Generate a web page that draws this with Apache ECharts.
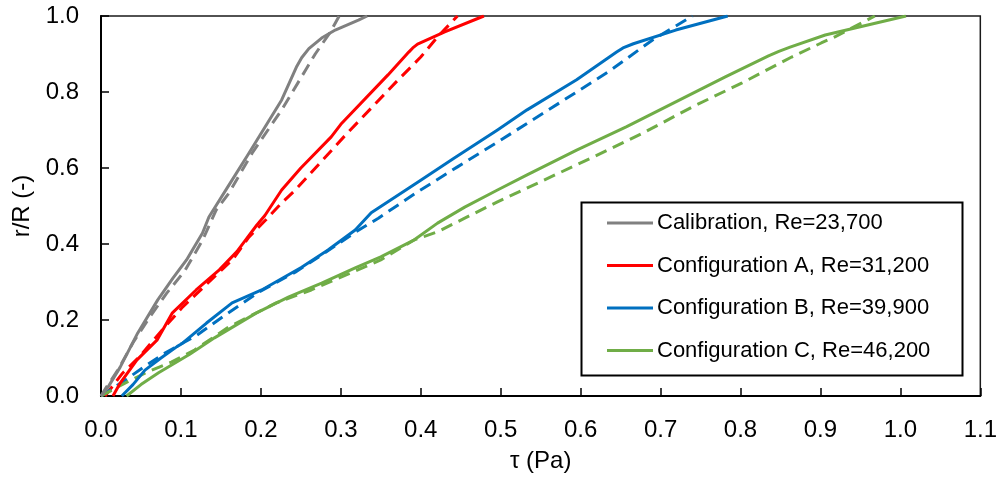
<!DOCTYPE html>
<html><head><meta charset="utf-8">
<script src="https://cdn.jsdelivr.net/npm/echarts@6/dist/echarts.min.js"></script>
<style>html,body{margin:0;padding:0;background:#fff}#c{width:1000px;height:479px}</style>
</head><body><div id="c"></div>
<script>
const xTicks = [0,0.1,0.2,0.3,0.4,0.5,0.6,0.7,0.8,0.9,1.0,1.1];
const yTicks = [0,0.2,0.4,0.6,0.8,1.0];
const legendNames = ['Calibration, Re=23,700','Configuration A, Re=31,200','Configuration B, Re=39,900','Configuration C, Re=46,200'];

const calibSolid = [[0,0],[0.009,0.024],[0.024,0.076],[0.046,0.166],[0.071,0.253],[0.09,0.31],[0.107,0.358],[0.127,0.429],[0.135,0.471],[0.16,0.555],[0.185,0.639],[0.226,0.779],[0.245,0.868],[0.251,0.89],[0.26,0.914],[0.276,0.942],[0.293,0.963],[0.322,0.989],[0.333,1.0]];
const calibDash = [[0,0],[0.007,0.024],[0.021,0.068],[0.04,0.14],[0.061,0.208],[0.082,0.27],[0.105,0.33],[0.127,0.41],[0.144,0.489],[0.16,0.534],[0.189,0.639],[0.226,0.753],[0.256,0.858],[0.268,0.9],[0.287,0.958],[0.298,1.0]];
const confASolid = [[0.015,0],[0.024,0.034],[0.045,0.095],[0.07,0.147],[0.089,0.218],[0.119,0.279],[0.148,0.332],[0.17,0.38],[0.181,0.411],[0.195,0.45],[0.205,0.475],[0.226,0.542],[0.25,0.6],[0.288,0.682],[0.3,0.715],[0.359,0.845],[0.385,0.905],[0.39,0.916],[0.396,0.926],[0.43,0.958],[0.479,1.0]];
const confADash = [[0.005,0],[0.027,0.06],[0.048,0.103],[0.075,0.17],[0.102,0.234],[0.14,0.31],[0.165,0.36],[0.185,0.418],[0.206,0.463],[0.226,0.508],[0.243,0.542],[0.306,0.687],[0.369,0.826],[0.4,0.892],[0.421,0.945],[0.446,1.0]];
const confBSolid = [[0.026,0],[0.04,0.03],[0.055,0.068],[0.075,0.1],[0.095,0.13],[0.102,0.139],[0.132,0.192],[0.164,0.245],[0.201,0.279],[0.251,0.339],[0.284,0.384],[0.318,0.437],[0.338,0.482],[0.359,0.511],[0.4,0.568],[0.442,0.626],[0.496,0.7],[0.533,0.753],[0.595,0.832],[0.645,0.905],[0.653,0.916],[0.666,0.927],[0.719,0.963],[0.784,1.0]];
const confBDash = [[0,0],[0.027,0.037],[0.052,0.074],[0.08,0.113],[0.12,0.16],[0.152,0.208],[0.198,0.274],[0.243,0.326],[0.276,0.371],[0.319,0.432],[0.347,0.468],[0.396,0.537],[0.446,0.603],[0.496,0.668],[0.574,0.772],[0.636,0.855],[0.69,0.937],[0.74,1.0]];
const confCSolid = [[0.032,0],[0.05,0.03],[0.072,0.061],[0.111,0.11],[0.142,0.153],[0.194,0.218],[0.235,0.261],[0.276,0.297],[0.318,0.337],[0.35,0.366],[0.392,0.411],[0.421,0.455],[0.455,0.497],[0.496,0.542],[0.533,0.582],[0.595,0.647],[0.657,0.708],[0.719,0.774],[0.781,0.84],[0.835,0.895],[0.848,0.907],[0.862,0.918],[0.906,0.95],[1.007,1.0]];
const confCDash = [[0,0],[0.03,0.034],[0.058,0.063],[0.088,0.089],[0.117,0.121],[0.16,0.182],[0.219,0.245],[0.263,0.279],[0.35,0.358],[0.392,0.411],[0.421,0.432],[0.455,0.468],[0.496,0.511],[0.554,0.568],[0.616,0.629],[0.678,0.692],[0.74,0.761],[0.802,0.824],[0.864,0.892],[0.901,0.929],[0.918,0.945],[0.968,1.0]];

const colors = ['#808080','#FF0000','#0070C0','#70AD47'];
const solids = [calibSolid, confASolid, confBSolid, confCSolid];
const dashes = [calibDash, confADash, confBDash, confCDash];
const FONT = '"Liberation Sans", Arial, sans-serif';

const series = [];
for (let i = 0; i < 4; i++) {
  series.push({name: legendNames[i] + ' (model)', type: 'line', data: dashes[i], showSymbol: false, symbol: 'none', silent: true, z: 2,
    lineStyle: {color: colors[i], width: 3, type: [12, 7], join: 'round'}, itemStyle: {color: colors[i]}});
}
for (let i = 0; i < 4; i++) {
  series.push({name: legendNames[i], type: 'line', data: solids[i], showSymbol: false, symbol: 'none', silent: true, z: 3,
    lineStyle: {color: colors[i], width: 3, join: 'round'}, itemStyle: {color: colors[i]}});
}

const chart = echarts.init(document.getElementById('c'), null, {renderer: 'canvas'});
chart.setOption({
  animation: false,
  backgroundColor: '#fff',
  textStyle: {fontFamily: FONT},
  grid: {left: 101, right: 14, top: 16, bottom: 83, show: true, borderColor: '#1a1a1a', borderWidth: 1.5, containLabel: false},
  xAxis: {type: 'value', min: xTicks[0], max: xTicks[xTicks.length-1], interval: 0.1,
    name: 'τ (Pa)', nameLocation: 'middle', nameGap: 53,
    nameTextStyle: {fontSize: 24, color: '#000', fontFamily: FONT},
    axisLine: {show: true, lineStyle: {color: '#000', width: 2}},
    axisTick: {show: true, inside: true, length: 8, lineStyle: {color: '#000', width: 1.5}},
    axisLabel: {fontSize: 24, color: '#000', margin: 22, fontFamily: FONT, formatter: v => v.toFixed(1)},
    splitLine: {show: false}},
  yAxis: {type: 'value', min: yTicks[0], max: yTicks[yTicks.length-1], interval: 0.2,
    name: 'r/R (-)', nameLocation: 'middle', nameGap: 56,
    nameTextStyle: {fontSize: 24, color: '#000', fontFamily: FONT},
    axisLine: {show: true, lineStyle: {color: '#000', width: 2}},
    axisTick: {show: true, inside: true, length: 8, lineStyle: {color: '#000', width: 1.5}},
    axisLabel: {fontSize: 24, color: '#000', margin: 22, fontFamily: FONT, formatter: v => v.toFixed(1)},
    splitLine: {show: false}},
  legend: {data: legendNames.map((n, i) => ({name: n, icon: 'rect', itemStyle: {color: colors[i]}})),
    orient: 'vertical', left: 607, top: 211, padding: 0, itemWidth: 46, itemHeight: 3, itemGap: 18.5,
    selectedMode: false,
    textStyle: {fontSize: 22, color: '#000', lineHeight: 24, fontFamily: FONT, padding: [0,0,0,-1]}},
  graphic: [{type: 'rect', left: 579, top: 200, shape: {width: 381, height: 173},
    style: {fill: 'none', stroke: '#000', lineWidth: 2}, z: 100, silent: true}],
  series: series
});
</script></body></html>
